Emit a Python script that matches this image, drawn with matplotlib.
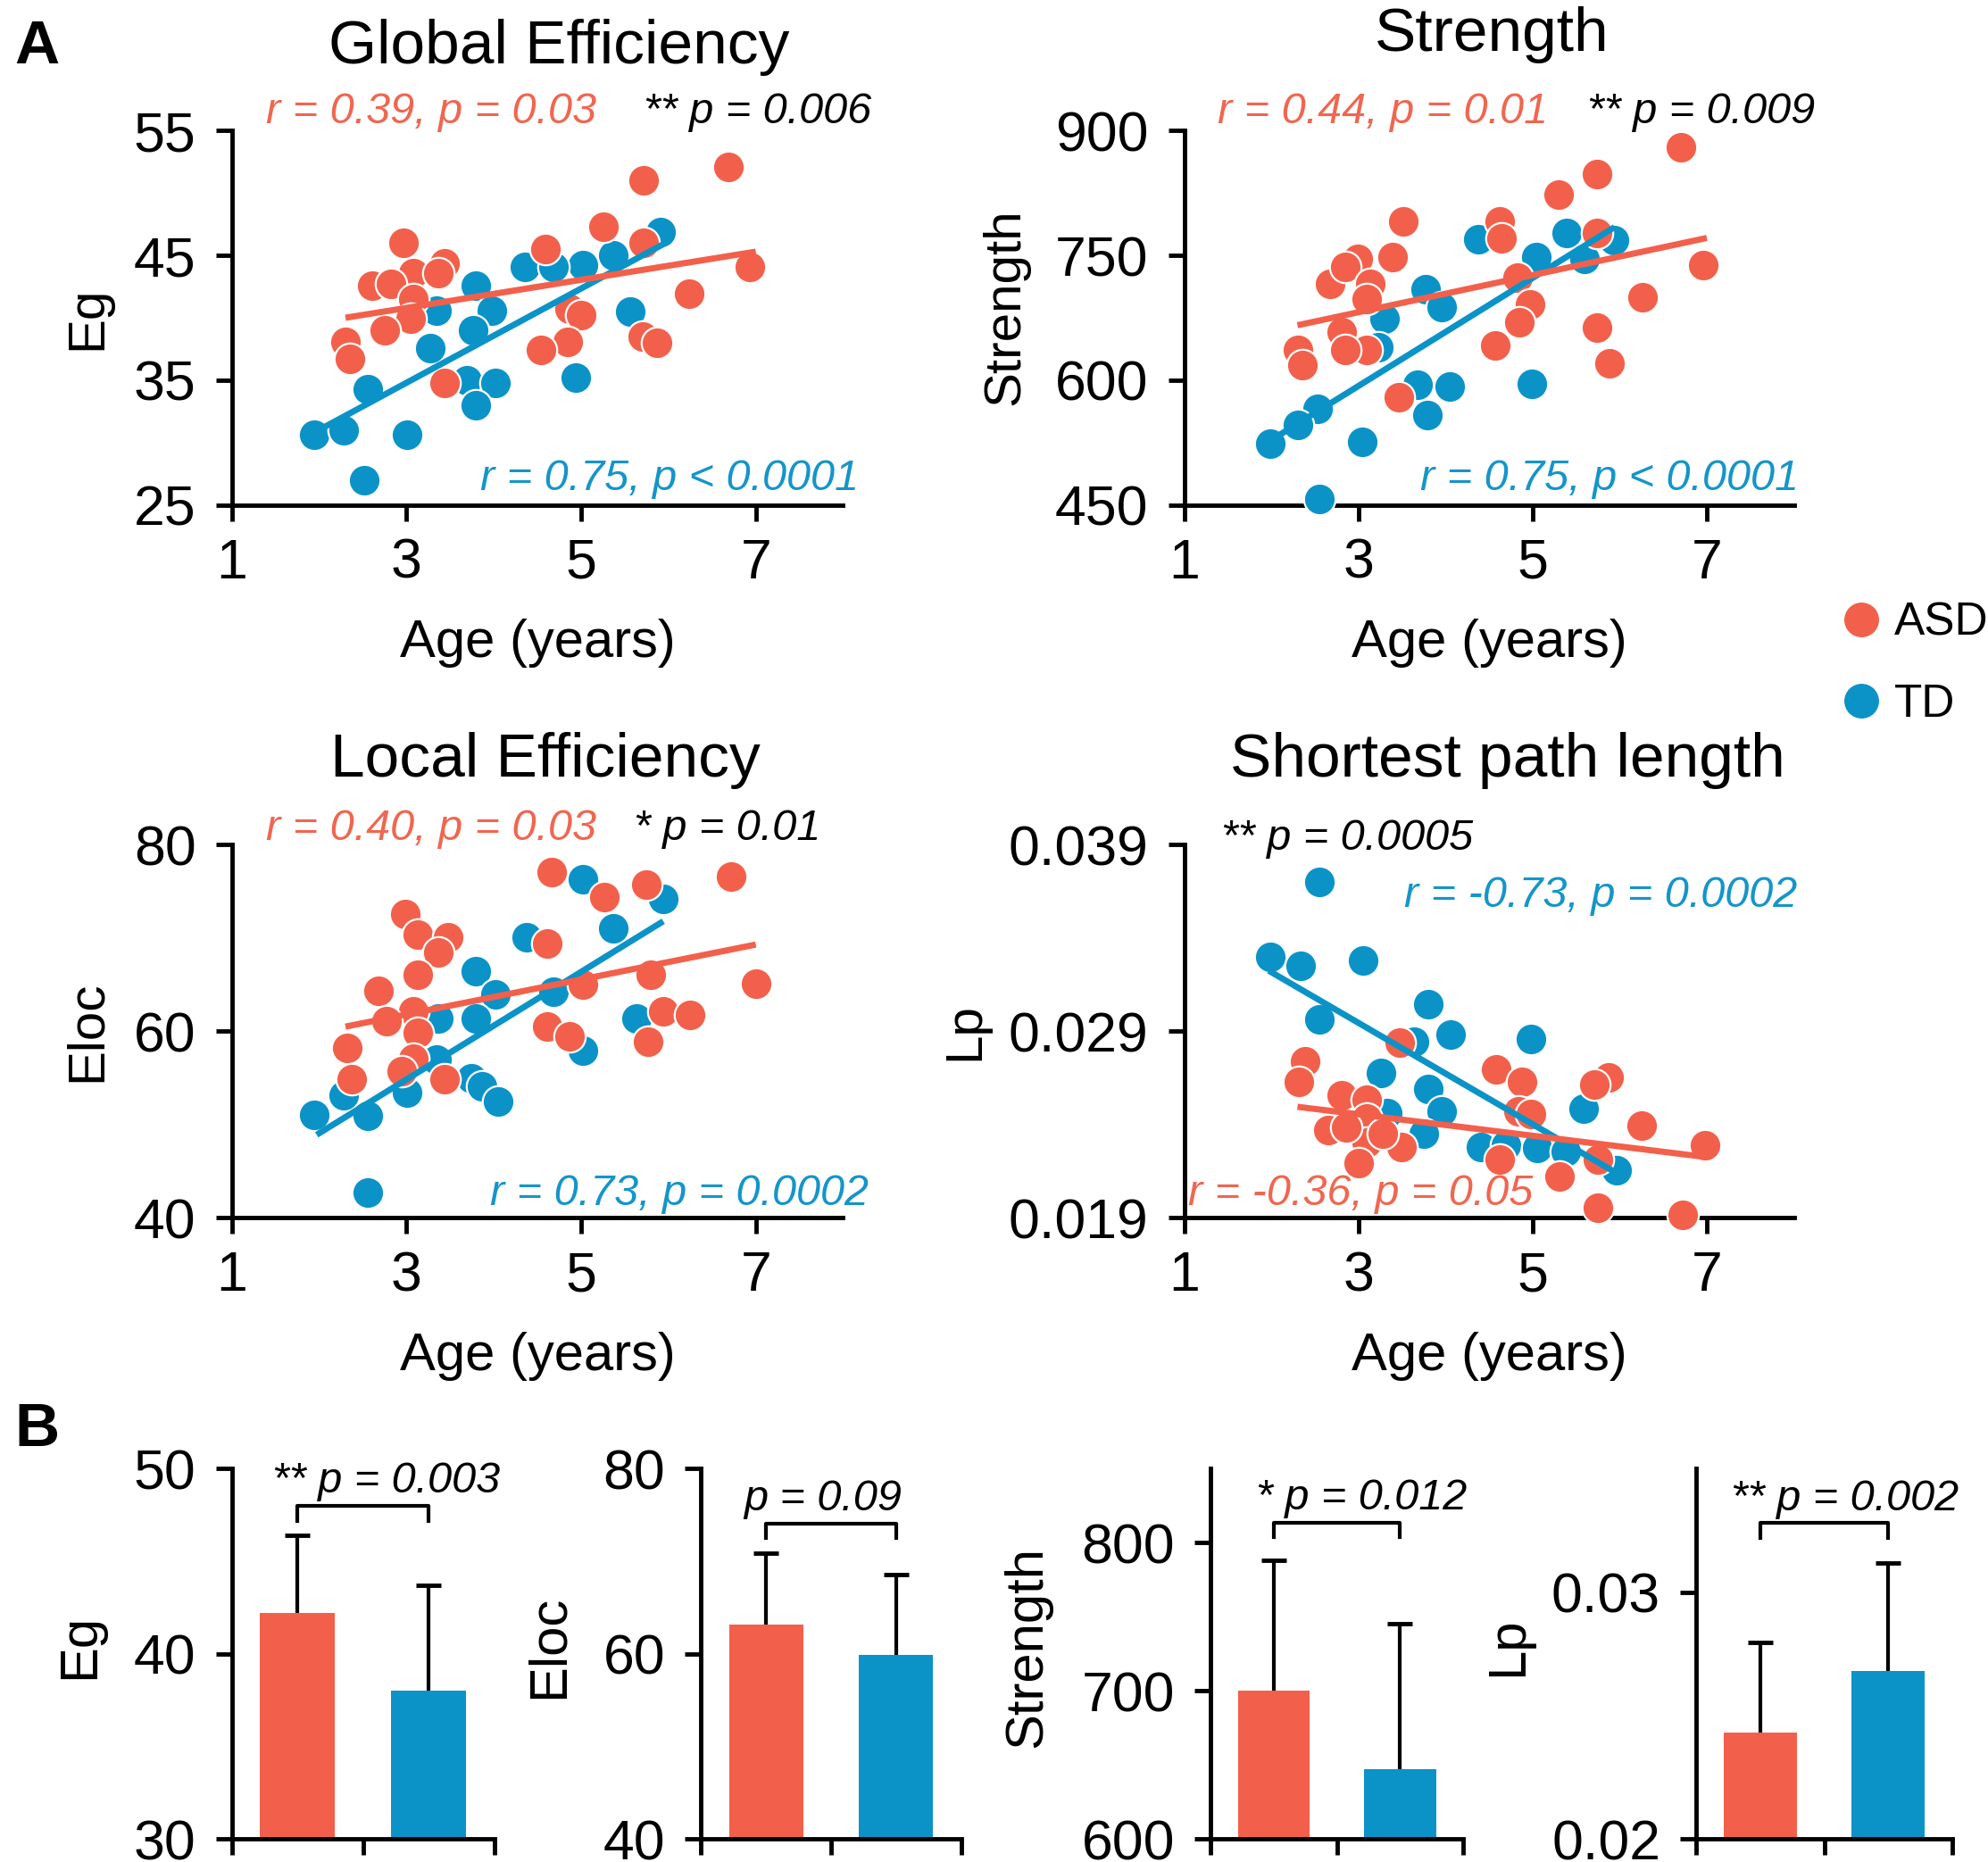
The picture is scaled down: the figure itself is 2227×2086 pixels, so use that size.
import matplotlib
matplotlib.use("Agg")
import matplotlib.pyplot as plt
from matplotlib.lines import Line2D

plt.rcParams["font.family"] = ["Liberation Sans", "DejaVu Sans"]

RED = "#F2604B"
BLUE = "#0B93C8"
RED_TXT = "#F06650"
BLUE_TXT = "#1595C9"

# ---- panel A: age vs network metric ----
eg_asd_age = [6.69, 5.72, 5.25, 5.72, 4.59, 6.93, 6.24, 2.96, 3.08, 3.43, 3.36, 2.61, 2.82,
              3.08, 3.05, 2.75, 2.30, 2.35, 3.43, 4.87, 5.00, 4.85, 4.54, 5.70, 5.87]
eg_asd = [52.1, 51.0, 47.3, 46.0, 45.5, 44.1, 41.9, 46.0, 43.6, 44.4, 43.6, 42.6, 42.7,
          41.5, 39.9, 39.0, 38.1, 36.7, 34.8, 40.7, 40.2, 38.1, 37.4, 38.5, 38.0]
eg_td_age = [5.91, 5.37, 5.02, 4.35, 4.68, 3.79, 3.98, 3.34, 3.76, 3.27, 5.56, 4.94, 3.69,
             4.02, 3.79, 2.56, 1.94, 2.28, 3.01, 2.51]
eg_td = [46.9, 45.0, 44.2, 44.05, 44.05, 42.6, 40.6, 40.6, 39.0, 37.6, 40.5, 35.2, 35.0,
         34.8, 33.0, 34.3, 30.6, 31.0, 30.6, 27.0]

str_asd_age = [6.70, 5.74, 5.30, 3.51, 4.62, 4.64, 5.74, 2.99, 3.39, 6.96, 2.67, 2.85, 3.14,
               3.09, 4.83, 6.26, 4.97, 4.85, 2.81, 2.31, 2.36, 3.09, 2.85, 4.57, 5.74, 5.88, 3.46]
str_asd = [880, 848, 823, 791, 791, 771, 777, 746, 748, 738, 716, 736, 716,
           697, 723, 700, 691, 670, 658, 636, 618, 636, 636, 642, 663, 620, 579]
str_td_age = [5.93, 5.39, 4.38, 5.04, 5.60, 3.77, 3.96, 3.30, 3.23, 3.68, 4.05, 4.99, 3.79,
              2.53, 2.31, 1.99, 3.04, 2.55]
str_td = [768, 777, 770, 748, 746, 709, 688, 674, 640, 594, 592, 595, 558,
          565, 546, 524, 526, 457]

eloc_asd_age = [4.66, 6.72, 5.75, 5.27, 2.98, 3.13, 3.48, 3.36, 4.61, 3.13, 2.68, 5.80, 5.02, 7.00,
                3.08, 2.77, 3.13, 5.94, 6.25, 4.61, 4.87, 5.77, 2.32, 3.08, 2.94, 3.43, 2.37]
eloc_asd = [77.1, 76.6, 75.7, 74.4, 72.6, 70.4, 70.1, 68.5, 69.4, 66.1, 64.3, 66.1, 65.0, 65.1,
            62.1, 61.1, 59.8, 62.1, 61.8, 60.5, 59.5, 58.9, 58.2, 57.1, 55.7, 54.9, 54.9]
eloc_td_age = [5.02, 5.94, 5.37, 4.38, 3.79, 4.02, 4.68, 3.79, 3.36, 5.63, 5.02, 3.74, 3.86,
               4.05, 3.01, 2.28, 1.94, 2.56, 3.34, 2.56]
eloc_td = [76.3, 74.2, 71.0, 70.1, 66.4, 64.0, 64.2, 61.4, 61.4, 61.4, 57.9, 55.0, 54.1,
           52.5, 53.4, 53.1, 51.0, 50.9, 57.0, 42.7]

lp_asd_age = [2.39, 2.32, 2.81, 3.09, 3.47, 4.58, 4.88, 5.87, 5.71, 4.84, 4.98, 3.09, 2.65,
              3.09, 3.49, 3.28, 3.00, 4.62, 6.25, 6.98, 5.31, 5.75, 5.75, 6.72, 2.86]
lp_asd = [0.02741, 0.02630, 0.02559, 0.02535, 0.02837, 0.02694, 0.02630, 0.02654, 0.02614,
          0.02471, 0.02456, 0.02432, 0.02368, 0.02305, 0.02281, 0.02352, 0.02194, 0.02210,
          0.02392, 0.02289, 0.02122, 0.02210, 0.01956, 0.01916, 0.02384]
lp_td_age = [2.55, 1.99, 2.34, 3.05, 2.55, 3.80, 4.06, 3.64, 4.98, 3.26, 3.80, 3.96, 3.33,
             3.75, 4.41, 4.69, 5.05, 5.38, 5.59, 5.96]
lp_td = [0.03702, 0.03297, 0.03249, 0.03281, 0.02963, 0.03043, 0.02884, 0.02844, 0.02860,
         0.02678, 0.02590, 0.02471, 0.02463, 0.02352, 0.02281, 0.02289, 0.02273, 0.02257,
         0.02487, 0.02154]

# regression lines as drawn (age at ends, value at ends)
fit_age_asd = [2.3, 7.0]
fit_age_td = [1.97, 5.94]
eg_fit_asd, eg_fit_td = [40.0, 45.3], [30.9, 45.9]
str_fit_asd, str_fit_td = [666, 771], [526, 784]
eloc_fit_asd, eloc_fit_td = [60.5, 69.3], [48.9, 71.8]
lp_fit_asd, lp_fit_td = [0.02495, 0.02225], [0.03225, 0.02146]

# ---- panel B: group means and SD ----
groups = ["ASD", "TD"]
bar_metrics = ["Eg", "Eloc", "Strength", "Lp"]
bar_means = [[42.2, 38.0], [63.2, 59.9], [700, 647.5], [0.0243, 0.0268]]
bar_sd = [[4.2, 5.7], [7.7, 8.7], [88, 98], [0.00365, 0.0044]]
bar_p = ["** p = 0.003", "p = 0.09", "* p = 0.012", "** p = 0.002"]


def style_axes(ax):
    for side in ["top", "right"]:
        ax.spines[side].set_visible(False)
    for side in ["left", "bottom"]:
        ax.spines[side].set_linewidth(3.5)
    ax.tick_params(axis="both", direction="out", length=13, width=3.5, labelsize=45)
    ax.tick_params(axis="x", pad=13)
    ax.tick_params(axis="y", pad=16)


def scatter_panel(ax, asd_x, asd_y, td_x, td_y, fit_asd, fit_td, ylim, yticks, ylabels):
    ax.scatter(td_x, td_y, s=650, c=BLUE, edgecolors="white", linewidths=1.6,
               zorder=3, clip_on=False)
    ax.scatter(asd_x, asd_y, s=650, c=RED, edgecolors="white", linewidths=1.6,
               zorder=3, clip_on=False)
    ax.plot(fit_age_td, fit_td, color=BLUE, lw=5, zorder=4, solid_capstyle="butt")
    ax.plot(fit_age_asd, fit_asd, color=RED, lw=5, zorder=4, solid_capstyle="butt")
    ax.set_xlim(1, 8)
    ax.set_xticks([1, 3, 5, 7])
    ax.set_ylim(*ylim)
    ax.set_yticks(yticks, ylabels)
    ax.set_xlabel("Age (years)", fontsize=43)
    ax.xaxis.set_label_coords(0.5, -0.305)
    style_axes(ax)


def note(ax, x, y, s, color="black", ha="left"):
    ax.text(x, y, s, transform=ax.transAxes, fontsize=35, style="italic",
            color=color, ha=ha, va="baseline", clip_on=False)


def title(ax, x, y, s):
    ax.text(x, y, s, transform=ax.transAxes, fontsize=50, ha="center", va="baseline")


fig = plt.figure(figsize=(22.27, 20.86), dpi=100)

ax1 = fig.add_axes([0.1167, 0.7289, 0.3074, 0.2009])
ax2 = fig.add_axes([0.5957, 0.7289, 0.3067, 0.2009])
ax3 = fig.add_axes([0.1167, 0.3460, 0.3074, 0.2003])
ax4 = fig.add_axes([0.5957, 0.3460, 0.3067, 0.2003])

scatter_panel(ax1, eg_asd_age, eg_asd, eg_td_age, eg_td, eg_fit_asd, eg_fit_td,
              (25, 55), [25, 35, 45, 55], ["25", "35", "45", "55"])
ax1.set_ylabel("Eg", fontsize=42)
ax1.yaxis.set_label_coords(-0.197, 0.5)
title(ax1, 0.535, 1.18, "Global Efficiency")
note(ax1, 0.056, 1.02, "r = 0.39, p = 0.03", RED_TXT)
note(ax1, 0.674, 1.02, "** p = 0.006")
note(ax1, 1.025, 0.04, "r = 0.75, p < 0.0001", BLUE_TXT, ha="right")

scatter_panel(ax2, str_asd_age, str_asd, str_td_age, str_td, str_fit_asd, str_fit_td,
              (450, 900), [450, 600, 750, 900], ["450", "600", "750", "900"])
ax2.set_ylabel("Strength", fontsize=42)
ax2.yaxis.set_label_coords(-0.254, 0.53)
title(ax2, 0.505, 1.214, "Strength")
note(ax2, 0.054, 1.02, "r = 0.44, p = 0.01", RED_TXT)
note(ax2, 0.661, 1.02, "** p = 0.009")
note(ax2, 1.008, 0.04, "r = 0.75, p < 0.0001", BLUE_TXT, ha="right")

scatter_panel(ax3, eloc_asd_age, eloc_asd, eloc_td_age, eloc_td, eloc_fit_asd, eloc_fit_td,
              (40, 80), [40, 60, 80], ["40", "60", "80"])
ax3.set_ylabel("Eloc", fontsize=42)
ax3.yaxis.set_label_coords(-0.197, 0.5)
title(ax3, 0.512, 1.184, "Local Efficiency")
note(ax3, 0.056, 1.014, "r = 0.40, p = 0.03", RED_TXT)
note(ax3, 0.658, 1.014, "* p = 0.01")
note(ax3, 1.041, 0.034, "r = 0.73, p = 0.0002", BLUE_TXT, ha="right")

scatter_panel(ax4, lp_asd_age, lp_asd, lp_td_age, lp_td, lp_fit_asd, lp_fit_td,
              (0.019, 0.039), [0.019, 0.029, 0.039], ["0.019", "0.029", "0.039"])
ax4.set_ylabel("Lp", fontsize=42)
ax4.yaxis.set_label_coords(-0.32, 0.5)
title(ax4, 0.53, 1.184, "Shortest path length")
note(ax4, 0.06, 0.986, "** p = 0.0005")
note(ax4, 1.006, 0.833, "r = -0.73, p = 0.0002", BLUE_TXT, ha="right")
note(ax4, 0.006, 0.034, "r = -0.36, p = 0.05", RED_TXT)

# legend
handles = [Line2D([], [], marker="o", ls="", ms=27, mfc=RED, mec=RED),
           Line2D([], [], marker="o", ls="", ms=27, mfc=BLUE, mec=BLUE)]
fig.legend(handles, groups, loc="upper left", bbox_to_anchor=(0.9245, 0.677),
           frameon=False, fontsize=37, handlelength=1.0, handletextpad=0.22,
           labelspacing=0.82, borderpad=0, borderaxespad=0)

# ---- panel B bars ----
bar_boxes = [[0.1167, 0.0123, 0.1320, 0.1989],
             [0.3527, 0.0123, 0.1307, 0.1989],
             [0.6090, 0.0123, 0.1270, 0.1989],
             [0.8533, 0.0123, 0.1287, 0.1989]]
bar_ylims = [(30, 50), (40, 80), (600, 850), (0.02, 0.035)]
bar_yticks = [[30, 40, 50], [40, 60, 80], [600, 700, 800], [0.02, 0.03]]
bar_yticklabels = [["30", "40", "50"], ["40", "60", "80"], ["600", "700", "800"], ["0.02", "0.03"]]
bracket_y = [48.0, 74.1, 813.7, 0.0328]
label_x = [-0.485, -0.49, -0.628, -0.64]
text_x = [0.31, 0.33, 0.36, 0.27]

for i, box in enumerate(bar_boxes):
    ax = fig.add_axes(box)
    lo, hi = bar_ylims[i]
    xs = [0.5, 1.5]
    tops = [m + s for m, s in zip(bar_means[i], bar_sd[i])]
    ax.bar(xs, bar_means[i], width=0.57, color=[RED, BLUE], zorder=2)
    # one-sided error bar: stem from bar top plus an upper cap only
    ax.vlines(xs, bar_means[i], tops, color="black", lw=3, zorder=3)
    ax.plot(xs, tops, ls="", marker="_", ms=20, mew=3.5, color="black", zorder=3)
    span = hi - lo
    by = bracket_y[i]
    ax.plot([0.5, 0.5, 1.5, 1.5], [by - 0.04 * span, by, by, by - 0.04 * span],
            color="black", lw=3, clip_on=False)
    ax.text(text_x[i], by + 0.035 * span, bar_p[i], fontsize=35, style="italic",
            ha="left", va="baseline", clip_on=False)
    ax.set_xlim(0, 2)
    ax.set_xticks([0, 1, 2])
    ax.set_ylim(lo, hi)
    ax.set_yticks(bar_yticks[i], bar_yticklabels[i])
    ax.set_ylabel(bar_metrics[i], fontsize=43)
    ax.yaxis.set_label_coords(label_x[i], 0.52)
    style_axes(ax)
    ax.tick_params(axis="x", labelbottom=False)

fig.text(0.0072, 0.966, "A", fontsize=50, fontweight="bold", va="baseline")
fig.text(0.0072, 0.2234, "B", fontsize=50, fontweight="bold", va="baseline")

fig.savefig("out.png", dpi=100)
